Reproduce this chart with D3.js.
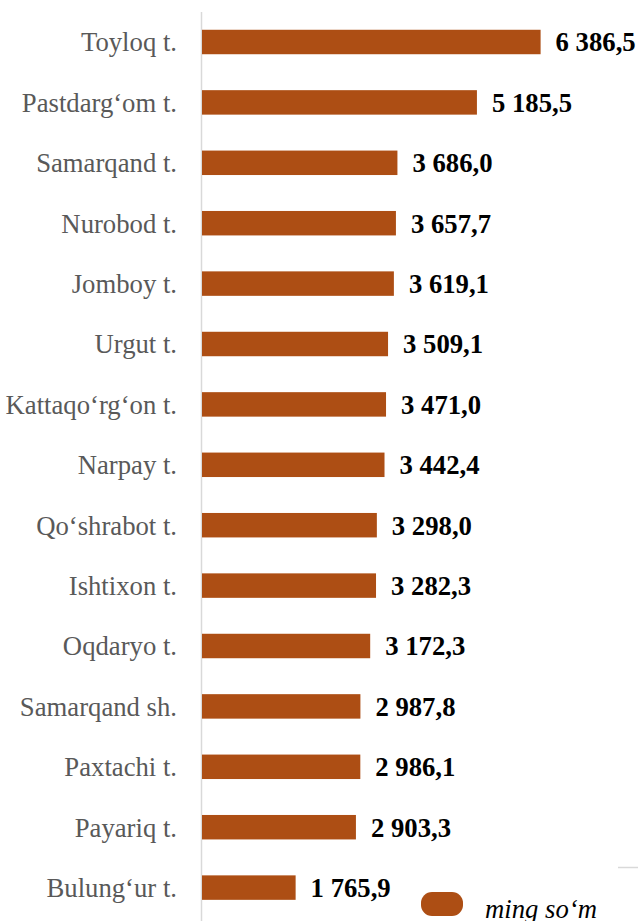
<!DOCTYPE html>
<html><head><meta charset="utf-8">
<script src="https://cdn.jsdelivr.net/npm/d3@7"></script>
<style>html,body{margin:0;padding:0;background:#fff;overflow:hidden}</style>
</head><body>
<svg id="chart" width="638" height="921"></svg>
<script>
const categories = ["Toyloq t.","Pastdarg‘om t.","Samarqand t.","Nurobod t.","Jomboy t.","Urgut t.","Kattaqo‘rg‘on t.","Narpay t.","Qo‘shrabot t.","Ishtixon t.","Oqdaryo t.","Samarqand sh.","Paxtachi t.","Payariq t.","Bulung‘ur t."];
const values = [6386.5,5185.5,3686.0,3657.7,3619.1,3509.1,3471.0,3442.4,3298.0,3282.3,3172.3,2987.8,2986.1,2903.3,1765.9];
const seriesName = "ming so‘m";

const svg = d3.select("#chart");
const x = d3.scaleLinear().domain([0, 6386.5]).range([202, 540.6]);
const y = d3.scaleBand().domain(categories).range([11.8, 917.8]).paddingInner(0.595).paddingOuter(0.2975);
const loc = d3.formatLocale({decimal:",", thousands:" ", grouping:[3], currency:["",""]});
const fmt = loc.format(",.1f");
const color = "#AD4E14";
const serif = "'Liberation Serif', 'Times New Roman', serif";

// axis line
svg.append("line").attr("x1",201.5).attr("x2",201.5).attr("y1",12).attr("y2",921)
  .attr("stroke","#d9d9d9").attr("stroke-width",1.5);

const data = categories.map((c,i)=>({c, v: values[i]}));

svg.selectAll("rect.bar").data(data).enter().append("rect").attr("class","bar")
  .attr("x", x(0)).attr("y", d=>y(d.c)).attr("width", d=>x(d.v)-x(0)).attr("height", y.bandwidth())
  .attr("fill", color);

svg.selectAll("text.cat").data(data).enter().append("text").attr("class","cat")
  .attr("x",177).attr("y", d=>y(d.c)+y.bandwidth()/2).attr("dy","0.35em")
  .attr("text-anchor","end").attr("font-family",serif)
  .attr("font-size",26.7).attr("fill","#595959").text(d=>d.c);

svg.selectAll("text.val").data(data).enter().append("text").attr("class","val")
  .attr("x", d=>x(d.v)+15).attr("y", d=>y(d.c)+y.bandwidth()/2).attr("dy","0.35em")
  .attr("font-family",serif).attr("font-weight","bold")
  .attr("font-size",26.7).attr("fill","#000").text(d=>fmt(d.v));

// legend
svg.append("rect").attr("x",421).attr("y",892).attr("width",42).attr("height",24).attr("rx",11)
  .attr("fill",color);
svg.append("text").attr("x",485).attr("y",918).attr("font-family",serif)
  .attr("font-style","italic").attr("font-size",26.7).attr("fill","#000").text(seriesName);

svg.append("line").attr("x1",618).attr("x2",638).attr("y1",867.5).attr("y2",867.5)
  .attr("stroke","#d9d9d9").attr("stroke-width",1.5);
</script>
</body></html>
